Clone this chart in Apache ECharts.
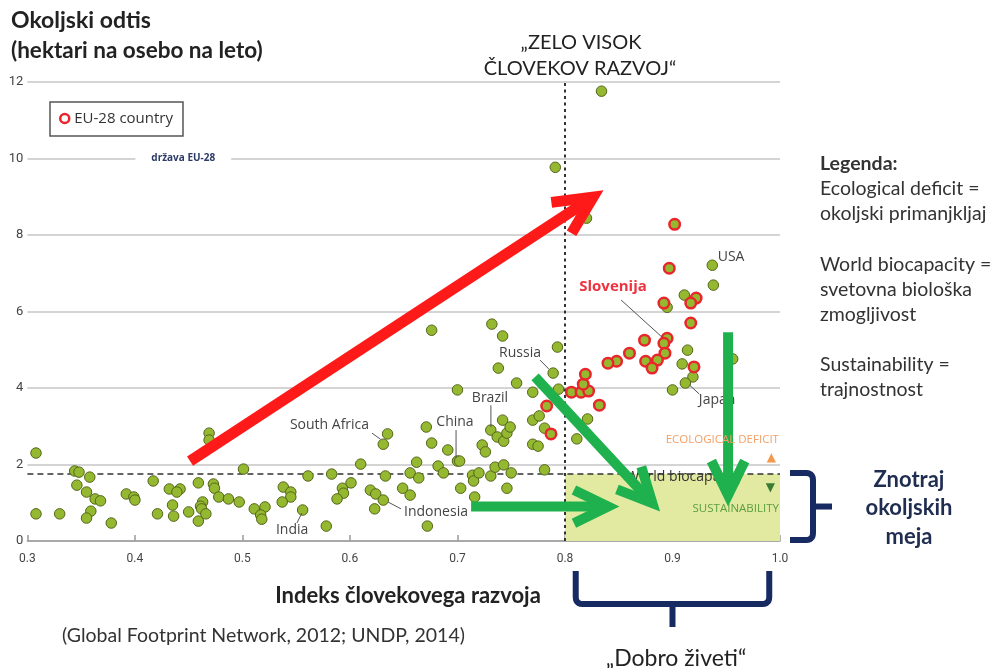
<!DOCTYPE html>
<html><head><meta charset="utf-8">
<script src="https://cdn.jsdelivr.net/npm/echarts@6/dist/echarts.min.js"></script>
<style>html,body{margin:0;padding:0;background:#fff}#c{width:991px;height:668px}</style>
</head><body><div id="c"></div>
<script>
// ---------- data ----------
const xTickLabels = ['0.3','0.4','0.5','0.6','0.7','0.8','0.9','1.0'];
const yTickLabels = ['0','2','4','6','8','10','12'];
const worldBiocapacity = 1.75;
const veryHighHDI = 0.8;
// [HDI, ecological footprint]
const otherCountries = [
[0.308,2.30],[0.308,0.71],[0.330,0.71],[0.344,1.83],[0.348,1.80],[0.358,1.67],[0.346,1.46],[0.355,1.28],[0.363,1.10],[0.368,1.05],
[0.359,0.78],[0.355,0.60],[0.378,0.47],[0.392,1.23],[0.399,1.15],[0.400,1.07],[0.417,1.57],[0.421,0.71],[0.432,1.36],[0.442,1.36],
[0.439,1.28],[0.435,0.94],[0.436,0.65],[0.450,0.76],[0.459,1.52],[0.463,1.02],[0.461,0.91],[0.462,0.84],[0.466,0.71],[0.459,0.52],
[0.469,2.82],[0.469,2.64],[0.473,1.49],[0.474,1.38],[0.478,1.15],[0.487,1.10],[0.497,1.02],[0.501,1.88],[0.511,0.84],[0.521,0.89],
[0.517,0.68],[0.518,0.57],[0.538,1.41],[0.545,1.28],[0.545,1.15],[0.537,1.02],[0.556,0.81],[0.578,0.39],[0.561,1.70],[0.583,1.75],
[0.593,1.38],[0.594,1.25],[0.588,1.10],[0.601,1.52],[0.610,2.01],[0.619,1.33],[0.624,1.23],[0.631,1.07],[0.623,0.84],[0.633,1.70],
[0.635,2.80],[0.631,2.53],[0.649,1.38],[0.656,1.20],[0.656,1.78],[0.664,1.65],[0.662,2.06],[0.672,0.39],[0.671,2.98],[0.676,2.56],
[0.676,5.51],[0.682,1.96],[0.687,1.78],[0.691,2.38],[0.700,3.95],[0.700,2.09],[0.702,2.09],[0.703,1.38],[0.714,1.72],[0.715,1.57],
[0.720,1.78],[0.716,1.15],[0.723,2.51],[0.726,2.33],[0.731,2.90],[0.731,1.70],[0.732,5.67],[0.735,1.93],[0.737,2.72],[0.738,4.52],
[0.742,5.36],[0.742,3.16],[0.743,1.99],[0.743,2.61],[0.746,2.82],[0.746,1.38],[0.749,2.98],[0.750,1.78],[0.755,4.13],[0.770,3.89],
[0.770,3.16],[0.770,2.53],[0.775,2.48],[0.776,3.27],[0.781,2.95],[0.781,1.86],[0.789,4.39],[0.793,5.07],[0.794,3.97],[0.791,9.77],
[0.834,11.76],[0.820,8.44],[0.821,3.19],[0.811,2.67],[0.937,7.21],[0.938,6.69],[0.911,6.43],[0.895,6.11],[0.914,4.99],[0.909,4.63],
[0.919,4.29],[0.912,4.13],[0.900,3.95],[0.956,4.76]
];
const euCountries = [
[0.783,3.53],[0.787,2.80],[0.806,3.89],[0.815,3.89],[0.822,3.92],[0.817,4.10],[0.819,4.36],[0.832,3.55],[0.902,8.28],[0.897,7.13],
[0.922,6.35],[0.917,6.22],[0.892,6.22],[0.917,5.70],[0.874,5.25],[0.895,5.30],[0.892,5.17],[0.860,4.91],[0.893,4.91],[0.848,4.70],
[0.840,4.65],[0.875,4.70],[0.886,4.73],[0.881,4.52],[0.920,4.55]
];
const labelledCountries = ['South Africa','China','Brazil','Russia','Indonesia','India','USA','Japan','Slovenija'];

// ---------- layout / styling (not data) ----------
const labelLayout = {
  'South Africa': {at:[0.6178,3.03], align:'right', line:[0.6205,2.82,0.6285,2.66]},
  'China':        {at:[0.6977,3.11], align:'center', line:[0.6987,2.90,0.6987,2.17]},
  'Brazil':       {at:[0.7302,3.74], align:'center', line:[0.7311,3.55,0.7311,2.98]},
  'Russia':       {at:[0.7582,4.91], align:'center', line:[0.7768,4.73,0.7852,4.49]},
  'Indonesia':    {at:[0.6503,0.76], align:'left', line:[0.6354,1.02,0.6475,0.84]},
  'India':        {at:[0.5462,0.29], align:'center', line:[0.5507,0.47,0.5553,0.73]},
  'USA':          {at:[0.9545,7.42], align:'center', line:null},
  'Japan':        {at:[0.9415,3.68], align:'center', line:[0.9157,4.08,0.9250,3.84]},
  'Slovenija':    {at:[0.8447,6.64], align:'center', line:[0.8522,6.30,0.8903,5.33], red:true}
};
const arrowDefs = [
  {from:[0.4513,2.09], to:[0.8261,8.99], color:'#ff1a1a', width:11, head:42, spread:26},
  {from:[0.7127,0.90], to:[0.8401,0.90], color:'#1fb14d', width:10, head:38, spread:26},
  {from:[0.7722,4.29], to:[0.8813,0.99], color:'#1fb14d', width:10, head:38, spread:26},
  {from:[0.9517,5.46], to:[0.9517,1.20], color:'#1fb14d', width:10, head:38, spread:26}
];

const chart = echarts.init(document.getElementById('c'), null, {renderer:'canvas'});
const GREEN = '#94b931', GREEN_EDGE = '#55661a', RED = '#e8262b';
const AXFONT = 'Roboto';

const option = {
  animation:false,
  backgroundColor:'#fff',
  grid:{left:27.4, right:211, top:82, bottom:127},
  legend:{
    data:[{name:'EU-28 country', icon:'circle', itemStyle:{color:'#fff', borderColor:RED, borderWidth:2.5}}],
    left:50, top:102, selectedMode:false,
    borderColor:'#555', borderWidth:1.5, borderRadius:0,
    padding:[9,10,10,9], itemWidth:9, itemHeight:9,
    textStyle:{fontSize:15, color:'#333', fontFamily:'"Open Sans"'}
  },
  xAxis:{
    type:'value', min:0.3, max:1.0, interval:0.1,
    splitLine:{show:false},
    axisLine:{lineStyle:{color:'#9a9a9a', width:1.5}},
    axisTick:{inside:true, length:6, lineStyle:{color:'#9a9a9a', width:1.5}},
    axisLabel:{margin:12, color:'#444', fontSize:12, fontFamily:AXFONT,
      formatter:(v)=>xTickLabels[Math.round((v-0.3)*10)]}
  },
  yAxis:{
    type:'value', min:0, max:12, interval:2,
    axisLine:{show:false}, axisTick:{show:false},
    splitLine:{lineStyle:{color:'#c6c6c6', width:1.5}},
    axisLabel:{margin:4, color:'#444', fontSize:13, fontFamily:AXFONT,
      formatter:(v)=>yTickLabels[Math.round(v/2)]}
  },
  series:[
    {
      type:'scatter', name:'zones', data:[], z:1, silent:true,
      markArea:{silent:true, itemStyle:{color:'#e2eaa2'},
        data:[[{xAxis:veryHighHDI, yAxis:0},{xAxis:1.0, yAxis:worldBiocapacity}]]},
      markLine:{silent:true, symbol:'none', label:{show:false},
        data:[
          {xAxis:veryHighHDI, lineStyle:{color:'#333', width:2, type:[3,3.5]}},
          {yAxis:worldBiocapacity, lineStyle:{color:'#333', width:1.6, type:[6,4]}}
        ]}
    },
    {
      type:'scatter', name:'Other', data:otherCountries, symbolSize:10.5, z:5,
      itemStyle:{color:GREEN, borderColor:GREEN_EDGE, borderWidth:1, opacity:1}
    },
    {
      type:'scatter', name:'EU-28 country', data:euCountries, symbolSize:10.5, z:6,
      itemStyle:{color:GREEN, borderColor:RED, borderWidth:2.5, opacity:1}
    },
    {
      type:'custom', name:'labels', z:7, silent:true, clip:false,
      data:labelledCountries.map((n,i)=>[labelLayout[n].at[0], labelLayout[n].at[1], i]),
      renderItem:(params, api)=>{
        const name = labelledCountries[params.dataIndex];
        const L = labelLayout[name];
        const p = api.coord([api.value(0), api.value(1)]);
        const children = [{
          type:'text', x:p[0], y:p[1],
          style:{text:name, textAlign:L.align, textVerticalAlign:'middle',
            font: L.red ? 'bold 15px "Open Sans"' : '14px "Open Sans"',
            fill: L.red ? '#ee3340' : '#444'}
        }];
        if (L.line) {
          const a = api.coord([L.line[0], L.line[1]]), b = api.coord([L.line[2], L.line[3]]);
          children.push({type:'line', shape:{x1:a[0],y1:a[1],x2:b[0],y2:b[1]}, style:{stroke:'#555', lineWidth:1}});
        }
        return {type:'group', children};
      }
    },
    {
      type:'custom', name:'arrows', z:10, silent:true, clip:false,
      data:arrowDefs.map(a=>[a.from[0],a.from[1],a.to[0],a.to[1]]),
      encode:{x:[0,2], y:[1,3]},
      renderItem:(params, api)=>{
        const A = arrowDefs[params.dataIndex];
        const p1 = api.coord([api.value(0), api.value(1)]);
        const p2 = api.coord([api.value(2), api.value(3)]);
        const back = Math.atan2(p1[1]-p2[1], p1[0]-p2[0]);
        const s = A.spread*Math.PI/180;
        const a1 = [p2[0]+A.head*Math.cos(back+s), p2[1]+A.head*Math.sin(back+s)];
        const a2 = [p2[0]+A.head*Math.cos(back-s), p2[1]+A.head*Math.sin(back-s)];
        const e = [p2[0]+A.width*0.9*Math.cos(back), p2[1]+A.width*0.9*Math.sin(back)];
        return {type:'group', children:[
          {type:'line', shape:{x1:p1[0],y1:p1[1],x2:e[0],y2:e[1]}, style:{stroke:A.color, lineWidth:A.width, lineCap:'butt'}},
          {type:'polyline', shape:{points:[a1,p2,a2]}, style:{stroke:A.color, lineWidth:A.width, fill:null, lineJoin:'miter', miterLimit:10, lineCap:'butt'}}
        ]};
      }
    }
  ]
};
chart.setOption(option);

// ---------- decorations ----------
const px = (x,y)=>chart.convertToPixel({gridIndex:0},[x,y]);
const NAVY = '#172a62';
function txt(x,y,text,font,fill,align,extra){
  return {type:'text', x:x, y:y, z:20, silent:true,
    style:Object.assign({text:text, font:font, fill:fill, textAlign:align||'left', textVerticalAlign:'middle'}, extra||{})};
}
function corner(p0, c, p1, n){
  const pts=[];
  for(let i=1;i<n;i++){const t=i/n;
    pts.push([(1-t)*(1-t)*p0[0]+2*(1-t)*t*c[0]+t*t*p1[0],(1-t)*(1-t)*p0[1]+2*(1-t)*t*c[1]+t*t*p1[1]]);}
  return pts;
}
function poly(points){
  return {type:'polyline', z:20, silent:true, shape:{points:points}, style:{stroke:NAVY, lineWidth:6, fill:null, lineJoin:'round'}};
}
const g = [];
g.push(txt(11,21,'Okoljski odtis','bold 23px Lato','#222'));
g.push(txt(11,51,'(hektari na osebo na leto)','bold 22.5px Lato','#222'));
g.push(txt(581,43,'„ZELO VISOK','20px Lato','#222','center'));
g.push(txt(580,69,'ČLOVEKOV RAZVOJ“','20px Lato','#222','center'));
const p10 = px(0.445,10);
g.push(txt(p10[0],p10[1],'država EU-28','bold 10px "Open Sans"','#2b3a66','center',{backgroundColor:'#fff', padding:[3,16]}));
const legLines = [['Legenda:',true],['Ecological deficit =',false],['okoljski primanjkljaj',false],null,
  ['World biocapacity =',false],['svetovna biološka',false],['zmogljivost',false],null,
  ['Sustainability =',false],['trajnostnost',false]];
let ly = 164;
legLines.forEach(function(l){ if(l){ g.push(txt(820,ly,l[0],(l[1]?'bold 19.5px':'19.5px')+' Lato','#333')); } ly += 25.1; });
let q, t;
q = px(0.999,2.64); g.push(txt(q[0],q[1],'ECOLOGICAL DEFICIT','11.5px "Open Sans"','#f2a066','right'));
q = px(0.992,2.17); g.push(txt(q[0],q[1],'▲','12px "DejaVu Sans"','#f39a4e','center'));
q = px(0.857,1.67); t = txt(q[0],q[1],'World biocapacity','14px "Open Sans"','#333'); t.z = 3; g.push(t);
q = px(0.991,1.38); t = txt(q[0],q[1],'▼','12px "DejaVu Sans"','#3b7c34','center'); t.z = 3; g.push(t);
q = px(0.999,0.84); t = txt(q[0],q[1],'SUSTAINABILITY','11.5px "Open Sans"','#5a9e3e','right'); t.z = 3; g.push(t);
// right brace
const yT = px(1,worldBiocapacity)[1]-1, yB = px(1,0)[1]-1, yM = (yT+yB)/2;
g.push(poly([[790,yT],[806,yT]].concat(corner([806,yT],[813,yT],[813,yT+7],5),[[813,yT+7],[813,yB-7]],
  corner([813,yB-7],[813,yB],[806,yB],5),[[806,yB],[790,yB]])));
g.push(poly([[813,yM],[832,yM]]));
g.push(txt(909,480,'Znotraj','bold 22px Lato','#1f2d50','center'));
g.push(txt(909,508,'okoljskih','bold 22px Lato','#1f2d50','center'));
g.push(txt(909,537,'meja','bold 22px Lato','#1f2d50','center'));
// bottom brace
const xL = px(0.81,0)[0], xR = px(0.99,0)[0], xM = px(0.9,0)[0];
g.push(poly([[xL,571],[xL,597]].concat(corner([xL,597],[xL,604],[xL+7,604],5),[[xL+7,604],[xR-7,604]],
  corner([xR-7,604],[xR,604],[xR,597],5),[[xR,597],[xR,571]])));
g.push(poly([[xM,604],[xM,627]]));
g.push(txt(408,596,'Indeks človekovega razvoja','bold 22px Lato','#222','center'));
g.push(txt(62,636,'(Global Footprint Network, 2012; UNDP, 2014)','19.5px Lato','#333','left'));
g.push(txt(676,659,'„Dobro živeti“','23px Lato','#222','center'));
chart.setOption({graphic:{elements:g}});
</script>
</body></html>
